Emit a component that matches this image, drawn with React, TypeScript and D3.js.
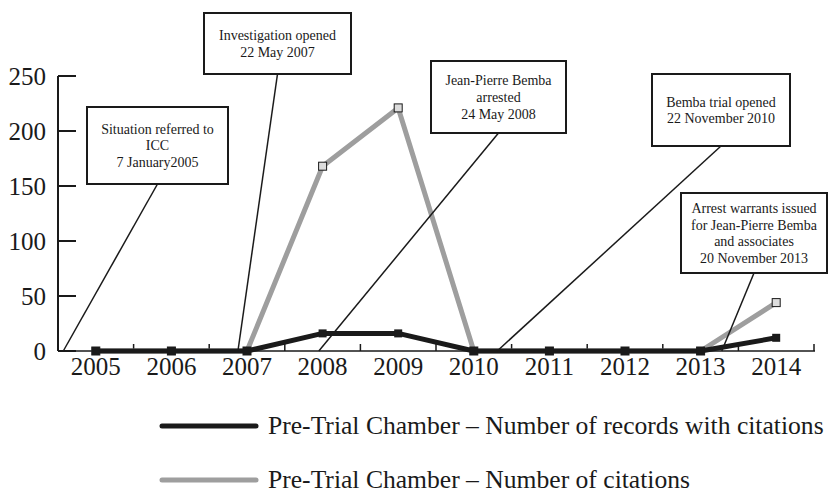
import React from "react";
import * as d3 from "d3";

const years = ["2005", "2006", "2007", "2008", "2009", "2010", "2011", "2012", "2013", "2014"];
const recordsWithCitations = [0, 0, 0, 16, 16, 0, 0, 0, 0, 12];
const numberOfCitations = [0, 0, 0, 168, 221, 0, 0, 0, 0, 44];
const yTicks = [0, 50, 100, 150, 200, 250];

const eventLines = [
  ["Situation referred to", "ICC", "7 January2005"],
  ["Investigation opened", "22 May 2007"],
  ["Jean-Pierre Bemba", "arrested", "24 May 2008"],
  ["Bemba trial opened", "22 November 2010"],
  ["Arrest warrants issued", "for Jean-Pierre Bemba", "and associates", "20 November 2013"],
];
// event date as fractional year (where callout line meets the axis)
const eventDates = [2005.07, 2007.38, 2008.45, 2010.81, 2013.78];

const legendLabels = [
  "Pre-Trial Chamber \u2013 Number of records with citations",
  "Pre-Trial Chamber \u2013 Number of citations",
];

// layout of callout boxes (x, y, w, h)
const boxLayout = [
  { x: 87, y: 107, w: 141, h: 77 },
  { x: 204, y: 13, w: 147, h: 61 },
  { x: 431, y: 61, w: 135, h: 72 },
  { x: 652, y: 74, w: 138, h: 72 },
  { x: 681, y: 193, w: 146, h: 80 },
];

const W = 828;
const H = 493;
const left = 58;
const right = 814;
const y0 = 351;
const yTop = 76;
const FONT = "Liberation Serif, DejaVu Serif, serif";
const BLACK = "#1a1a1a";
const GRAY = "#9e9e9e";

export default function App() {
  const x = d3.scaleBand<string>().domain(years).range([left, right]).paddingInner(0).paddingOuter(0);
  const bw = x.bandwidth();
  const cx = (yr: string) => (x(yr) as number) + bw / 2;
  const xDate = d3.scaleLinear().domain([2005, 2015]).range([left, right]);
  const y = d3.scaleLinear().domain([0, 250]).range([y0, yTop]);

  const line = d3
    .line<number>()
    .x((_, i) => cx(years[i]))
    .y((d) => y(d));

  const boundaries = years.map((yr) => x(yr) as number).concat([right]);

  return (
    <svg width={W} height={H} style={{ position: "absolute", left: 0, top: 0, background: "#fff", fontFamily: FONT }}>
      <rect x={0} y={0} width={W} height={H} fill="#fff" />
      {/* y axis */}
      <line x1={left} x2={left} y1={y(250)} y2={y0} stroke={BLACK} strokeWidth={2} />
      {yTicks.map((t) => (
        <g key={t}>
          <line x1={left} x2={left + 18} y1={y(t)} y2={y(t)} stroke={BLACK} strokeWidth={2} />
          <text x={46} y={y(t)} dy="0.35em" textAnchor="end" style={{ fontFamily: FONT }} fontSize={25} fill={BLACK}>
            {t}
          </text>
        </g>
      ))}
      {/* x axis */}
      <line x1={left} x2={right + 1} y1={y0} y2={y0} stroke={BLACK} strokeWidth={1.5} />
      {boundaries.map((bx, i) => (
        <line key={i} x1={bx} x2={bx} y1={y0} y2={y0 - 7} stroke={BLACK} strokeWidth={1.5} />
      ))}
      {years.map((yr) => (
        <text key={yr} x={cx(yr)} y={375} textAnchor="middle" style={{ fontFamily: FONT }} fontSize={25} fill={BLACK}>
          {yr}
        </text>
      ))}

      {/* gray series */}
      <path d={line(numberOfCitations) || ""} fill="none" stroke={GRAY} strokeWidth={5} strokeLinejoin="round" />
      {numberOfCitations.map((v, i) => (
        <rect key={i} x={cx(years[i]) - 4} y={y(v) - 4} width={8} height={8} fill="#dcdcdc" stroke={BLACK} strokeWidth={1} />
      ))}
      {/* black series */}
      <path d={line(recordsWithCitations) || ""} fill="none" stroke={BLACK} strokeWidth={5} strokeLinejoin="round" />
      {recordsWithCitations.map((v, i) => (
        <rect key={i} x={cx(years[i]) - 4} y={y(v) - 4} width={8} height={8} fill={BLACK} />
      ))}

      {/* callouts */}
      {eventLines.map((lines, i) => {
        const b = boxLayout[i];
        const bx = b.x + b.w / 2;
        const by = b.y + b.h / 2;
        const lh = 16.7;
        const first = by - ((lines.length - 1) / 2) * lh;
        return (
          <g key={i}>
            <line x1={bx} y1={b.y + b.h} x2={xDate(eventDates[i])} y2={y0} stroke={BLACK} strokeWidth={1.5} />
            <rect x={b.x} y={b.y} width={b.w} height={b.h} fill="#fff" stroke={BLACK} strokeWidth={2} />
            {lines.map((t, j) => (
              <text key={j} x={bx} y={first + j * lh} dy="0.35em" textAnchor="middle" style={{ fontFamily: FONT }} fontSize={14} fill={BLACK}>
                {t}
              </text>
            ))}
          </g>
        );
      })}

      {/* legend */}
      {legendLabels.map((lab, i) => {
        const ly = i === 0 ? 426 : 480;
        return (
          <g key={i}>
            <line x1={162} x2={256} y1={ly} y2={ly} stroke={i === 0 ? BLACK : GRAY} strokeWidth={5} strokeLinecap="round" />
            <text x={268} y={ly + 7.5} style={{ fontFamily: FONT }} fontSize={25.6} fill={BLACK}>
              {lab}
            </text>
          </g>
        );
      })}
    </svg>
  );
}
